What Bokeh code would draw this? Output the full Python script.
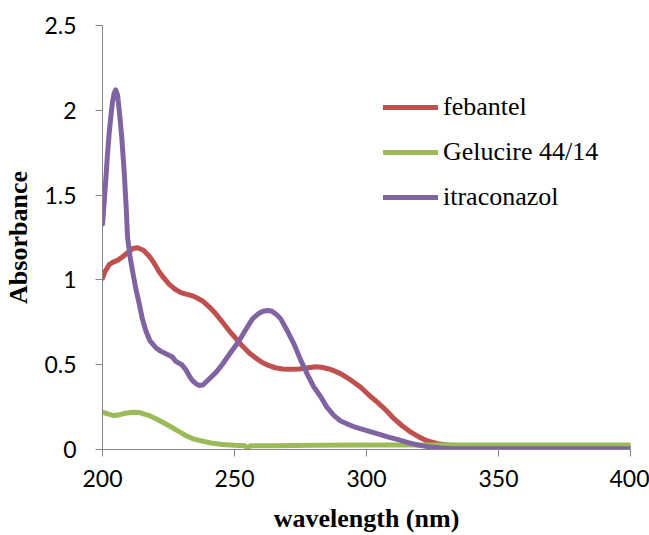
from bokeh.plotting import figure
from bokeh.models import ColumnDataSource, FixedTicker, Legend, LegendItem
from bokeh.embed import file_html
from bokeh.resources import INLINE

# UV absorbance spectra (wavelength in nm)
feb_wl = [200, 201, 202.5, 204, 205.7, 207.5, 209.5, 211.5, 213.3, 215.5, 217.7, 219.5,
          221.4, 223.3, 225.2, 227.5, 229.7, 232, 234.1, 236, 237.9, 240.5, 242.9, 245.5,
          248, 250.5, 253, 255.5, 258, 260.5, 263.1, 265.5, 268.2, 271, 274.5, 278, 280.8,
          283, 285.8, 288, 290.3, 294, 297.8, 301, 304.2, 307.5, 310.5, 313.5, 316.8, 320,
          323.1, 327, 330.7, 335, 340, 360, 380, 400]
feb_abs = [1.01, 1.05, 1.09, 1.105, 1.115, 1.135, 1.16, 1.185, 1.19, 1.175, 1.14, 1.10,
           1.05, 1.01, 0.975, 0.945, 0.925, 0.915, 0.906, 0.892, 0.876, 0.84, 0.80, 0.75,
           0.70, 0.655, 0.61, 0.57, 0.54, 0.513, 0.494, 0.482, 0.475, 0.473, 0.475, 0.482, 0.488,
           0.485, 0.475, 0.462, 0.446, 0.41, 0.367, 0.32, 0.278, 0.23, 0.18, 0.14, 0.102, 0.073,
           0.05, 0.034, 0.026, 0.022, 0.02, 0.02, 0.02, 0.02]

gel_wl = [200, 202, 204.4, 206, 208, 211.4, 214, 217.7, 221, 225.2, 228.5, 231.6, 234.5,
          237.9, 241, 245.5, 250, 254, 255, 256, 265, 280, 300, 330, 360, 400]
gel_abs = [0.22, 0.21, 0.20, 0.203, 0.212, 0.22, 0.218, 0.20, 0.175, 0.14, 0.11, 0.082, 0.062,
           0.049, 0.038, 0.03, 0.025, 0.022, 0.005, 0.022, 0.022, 0.025, 0.026, 0.026, 0.026, 0.026]

itr_wl = [200, 200.6, 201.2, 201.8, 202.5, 203.2, 203.8, 204.4, 205, 205.7, 206.4, 207.3,
          208.2, 208.9, 209.5, 210.4, 211.4, 212.6, 213.9, 215.1, 216.4, 218, 220.2,
          222, 224.6, 226.5, 227.8, 230, 231.6, 233, 234.1, 235.4, 236.6, 238, 240.4, 243,
          245.5, 248, 251.7, 254, 256.8, 259, 260.8, 262.5, 264.2, 266, 267.5, 270, 272.6,
          275, 277.7, 280, 282.7, 285, 287.7, 290, 292.8, 296, 300.4, 304, 308, 312, 315.5,
          319, 323, 328, 333, 340, 350, 400]
itr_abs = [1.33, 1.45, 1.58, 1.72, 1.86, 1.97, 2.05, 2.10, 2.12, 2.09, 1.99, 1.84,
           1.64, 1.45, 1.25, 1.14, 1.05, 0.95, 0.86, 0.77, 0.70, 0.64, 0.60,
           0.58, 0.56, 0.545, 0.52, 0.50, 0.47, 0.43, 0.406, 0.388, 0.378, 0.38, 0.416, 0.455,
           0.504, 0.56, 0.64, 0.70, 0.77, 0.80, 0.815, 0.82, 0.815, 0.795, 0.77, 0.70, 0.62,
           0.53, 0.44, 0.37, 0.31, 0.25, 0.20, 0.17, 0.15, 0.13, 0.11, 0.093, 0.075, 0.058,
           0.042, 0.028, 0.017, 0.009, 0.005, 0.004, 0.004, 0.004]

x_ticks = [200, 250, 300, 350, 400]
y_ticks = [0, 0.5, 1, 1.5, 2, 2.5]
y_tick_labels = ["0", "0.5", "1", "1.5", "2", "2.5"]

series = [
    ("febantel", feb_wl, feb_abs, "#C0504D"),
    ("Gelucire 44/14", gel_wl, gel_abs, "#9BBB59"),
    ("itraconazol", itr_wl, itr_abs, "#8064A2"),
]

p = figure(width=649, height=535, output_backend="svg", toolbar_location=None,
           x_range=(200, 400), y_range=(0, 2.5),
           min_border_left=102, min_border_right=19, min_border_top=25, min_border_bottom=85)
p.outline_line_color = None
p.grid.visible = False
p.background_fill_color = "white"
p.border_fill_color = "white"

items = []
for name, xs, ys, color in series:
    src = ColumnDataSource(dict(x=xs, y=ys))
    r = p.line("x", "y", source=src, line_color=color, line_width=5,
               line_join="round", line_cap="round")
    items.append(LegendItem(label=name, renderers=[r]))

axis_gray = "#868686"
for ax in (p.xaxis[0], p.yaxis[0]):
    ax.axis_line_color = axis_gray
    ax.major_tick_line_color = axis_gray
    ax.major_tick_in = 0
    ax.major_tick_out = 7
    ax.minor_tick_line_color = None
    ax.major_label_text_font = "Lato"
    ax.major_label_text_font_size = "23px"
    ax.major_label_text_color = "black"
    ax.axis_label_text_font = "Liberation Serif"
    ax.axis_label_text_font_style = "bold"
    ax.axis_label_text_font_size = "26px"
    ax.axis_label_text_color = "black"

p.xaxis.ticker = FixedTicker(ticks=x_ticks)
p.yaxis.ticker = FixedTicker(ticks=y_ticks)
p.yaxis.major_label_overrides = {t: s for t, s in zip(y_ticks, y_tick_labels)}
p.xaxis.major_label_standoff = 13
p.yaxis.major_label_standoff = 19
p.xaxis.major_label_text_line_height = 0.8

p.yaxis.axis_label = "Absorbance"
p.yaxis.axis_label_standoff = 8
p.xaxis.axis_label = "wavelength (nm)"
p.xaxis.axis_label_standoff = 14

legend = Legend(items=items, location=(281, 237), orientation="vertical",
                glyph_width=55, glyph_height=20, label_height=20, spacing=15,
                label_standoff=5, padding=0, margin=0,
                border_line_color=None, background_fill_alpha=0)
p.add_layout(legend)
p.legend.label_text_font = "Liberation Serif"
p.legend.label_text_font_size = "26px"
p.legend.label_text_color = "black"

open("out.html", "w").write(file_html(p, INLINE))
